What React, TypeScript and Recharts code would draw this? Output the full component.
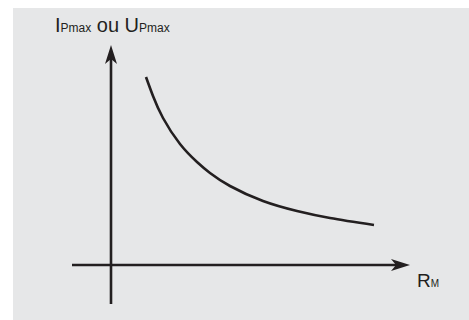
import { LineChart, Line, XAxis, YAxis, ReferenceLine } from "recharts"

// curve readings (x = distance from origin, y = height above axis)
const rm = [35, 42, 52, 69, 86, 99, 119, 152, 186, 219, 263]
const pmax = [188, 169, 147, 121, 103, 92, 79, 64, 54, 47, 40]

const data = rm.map((r, i) => ({ r, v: pmax[i] }))

const INK = "#231f20"
const FONT = "'Liberation Sans', Arial, sans-serif"

// axis line with arrowhead at the (x2, y2) end
function ArrowLine(props: any) {
  const { x1, y1, x2, y2 } = props
  const dx = x2 - x1
  const dy = y2 - y1
  const len = Math.sqrt(dx * dx + dy * dy)
  const ux = dx / len
  const uy = dy / len
  const L = 19
  const W = 6
  const bx = x2 - ux * L
  const by = y2 - uy * L
  const nx = x2 - ux * (L - 5)
  const ny = y2 - uy * (L - 5)
  const pts = [
    `${x2},${y2}`,
    `${bx - uy * W},${by + ux * W}`,
    `${nx},${ny}`,
    `${bx + uy * W},${by - ux * W}`,
  ].join(" ")
  return (
    <g>
      <line x1={x1} y1={y1} x2={nx} y2={ny} stroke={INK} strokeWidth={2.6} />
      <polygon points={pts} fill={INK} />
    </g>
  )
}

export default function App() {
  return (
    <div style={{ position: "absolute", left: 0, top: 0, width: 469, height: 320, background: "#fff" }}>
      <div style={{ position: "absolute", left: 13, top: 8, width: 456, height: 312, background: "#e6e7e8" }} />
      <div style={{ position: "absolute", left: 0, top: 0 }}>
        <LineChart width={469} height={320} data={data} margin={{ top: 45, right: 58, bottom: 55, left: 111 }}>
          <XAxis dataKey="r" type="number" domain={[0, 300]} hide />
          <YAxis type="number" domain={[0, 220]} hide />
          <ReferenceLine
            segment={[{ x: -39, y: 0 }, { x: 299, y: 0 }]}
            ifOverflow="visible"
            shape={ArrowLine}
          />
          <ReferenceLine
            segment={[{ x: 0, y: -39 }, { x: 0, y: 220 }]}
            ifOverflow="visible"
            shape={ArrowLine}
          />
          <Line
            dataKey="v"
            type="natural"
            stroke={INK}
            strokeWidth={2.6}
            dot={false}
            isAnimationActive={false}
          />
          <text x={55} y={32} fill={INK} fontFamily={FONT} fontSize={20}>
            I<tspan fontSize={12}>Pmax</tspan> ou U<tspan fontSize={12}>Pmax</tspan>
          </text>
          <text x={417} y={287} fill={INK} fontFamily={FONT} fontSize={19}>
            R<tspan fontSize={10}>M</tspan>
          </text>
        </LineChart>
      </div>
    </div>
  )
}
